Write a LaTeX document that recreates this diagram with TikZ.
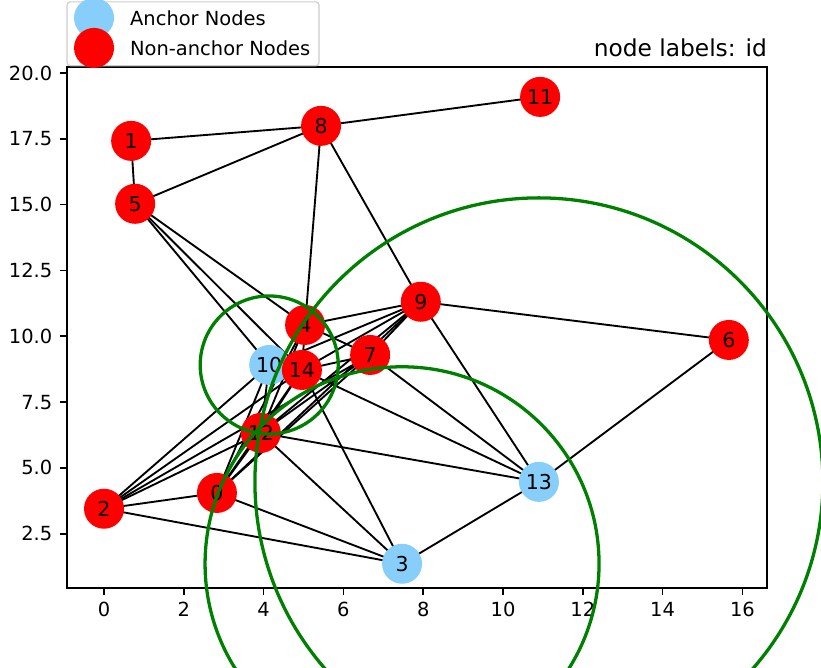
\documentclass[tikz,border=0pt]{standalone}
\usepackage{fontspec}
\setmainfont{DejaVu Sans}
\usetikzlibrary{backgrounds}
\definecolor{anchorblue}{RGB}{135,206,250}
\definecolor{ringgreen}{RGB}{0,128,0}
\begin{document}
\begin{tikzpicture}[x=1.197cm,y=0.790cm,
    vertex/.style={circle,minimum size=1.2cm,inner sep=0pt,font=\fontsize{17.5}{17.5}\selectfont},
    anchorvertex/.style={vertex,fill=anchorblue},
    freevertex/.style={vertex,fill=red},
    edge/.style={black,line width=1.6pt},
    ring/.style={ringgreen,line width=2.8pt},
    axisline/.style={line width=1.4pt},
    ticklabel/.style={font=\fontsize{16.6}{16.6}\selectfont,inner sep=0pt}]
\useasboundingbox (-2.607,-2.59) rectangle (17.97,22.77);
\draw[axisline] (-0.927,0.45) rectangle (16.62,20.23);
\foreach \x in {0,2,...,16}
    \draw[axisline] (\x,0.45) -- ++(0,-0.22cm) node[ticklabel,anchor=north,yshift=-0.2cm] {\x};
\foreach \y in {2.5,5.0,7.5,10.0,12.5,15.0,17.5,20.0}
    \draw[axisline] (-0.927,\y) -- ++(-0.22cm,0) node[ticklabel,anchor=east,xshift=-0.2cm] {\y};
\node[anchor=base east,inner sep=0pt,font=\fontsize{19.9}{19.9}\selectfont] (title) at (16.62,20.62) {node labels: id};

\node[freevertex] (n0) at (2.83,4.05) {0};
\node[freevertex] (n1) at (0.68,17.42) {1};
\node[freevertex] (n2) at (0.00,3.45) {2};
\node[anchorvertex] (n3) at (7.47,1.36) {3};
\node[freevertex] (n4) at (5.04,10.43) {4};
\node[freevertex] (n5) at (0.78,15.03) {5};
\node[freevertex] (n6) at (15.66,9.86) {6};
\node[freevertex] (n7) at (6.67,9.29) {7};
\node[freevertex] (n8) at (5.44,17.99) {8};
\node[freevertex] (n9) at (7.94,11.31) {9};
\node[anchorvertex] (n10) at (4.14,8.91) {10};
\node[freevertex] (n11) at (10.93,19.09) {11};
\node[freevertex] (n12) at (3.93,6.33) {12};
\node[anchorvertex] (n13) at (10.90,4.47) {13};
\node[freevertex] (n14) at (4.96,8.72) {14};

\begin{pgfonlayer}{background}
\foreach \a/\b in {1/8,1/5,5/8,8/11,8/4,8/9,9/13,9/6,6/13,13/3,
    5/10,5/14,5/4,9/4,9/14,9/12,9/10,9/0,9/7,7/4,7/14,7/12,7/13,7/0,
    4/14,4/12,4/0,2/7,14/13,14/3,14/12,14/0,14/2,10/12,10/0,10/2,10/14,
    12/13,12/3,12/0,12/2,0/3,0/2,2/3}
    \draw[edge] (n\a.center) -- (n\b.center);
\end{pgfonlayer}

\draw[ring] (n10.center) circle[radius=2.07cm];
\draw[ring] (n13.center) circle[radius=8.52cm];
\draw[ring] (n3.center) circle[radius=5.91cm];

\draw[rounded corners=0.1cm,draw=black!20,line width=1pt,fill=white,fill opacity=0.8] (-0.927,20.27) rectangle (5.39,22.70);
\node[circle,fill=anchorblue,minimum size=1.2cm,inner sep=0pt] (keyanchor) at (-0.25,22.09) {};
\node[circle,fill=red,minimum size=1.2cm,inner sep=0pt] (keyfree) at (-0.25,20.95) {};
\node[ticklabel,anchor=west] (textanchor) at (0.65,22.09) {Anchor Nodes};
\node[ticklabel,anchor=west] (textfree) at (0.65,20.95) {Non-anchor Nodes};
\end{tikzpicture}
\end{document}
